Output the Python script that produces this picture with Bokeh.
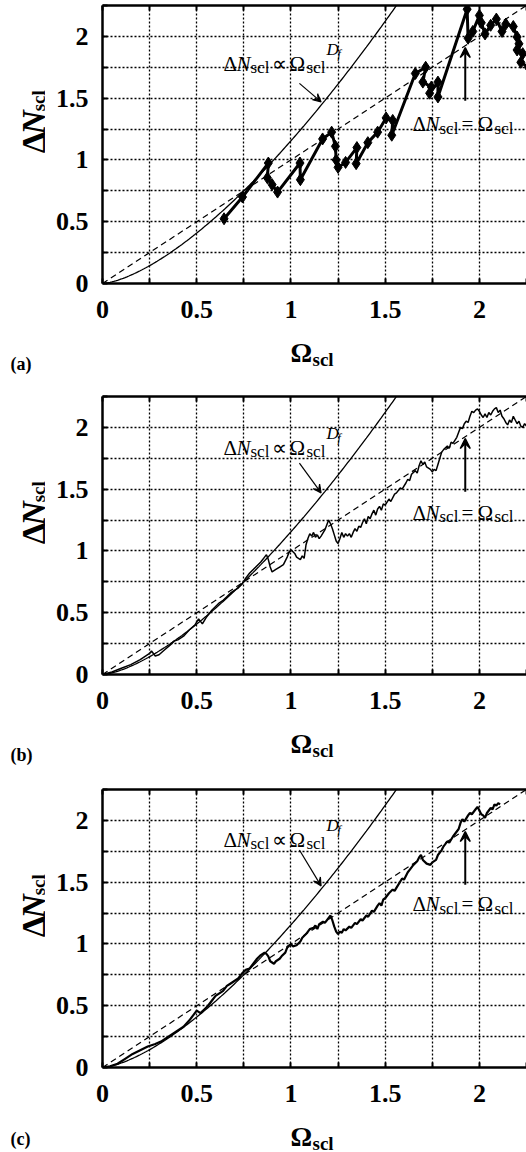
import math
import numpy as np
from bokeh.plotting import figure
from bokeh.layouts import column, row
from bokeh.models import (Label, Arrow, VeeHead, FixedTicker, LinearAxis, Range1d,
                          CustomJSTickFormatter)
from bokeh.core.properties import value
from bokeh.embed import file_html
from bokeh.resources import INLINE

SERIF = "Liberation Serif"

# ---------------- data ----------------
omega_a = [0.645, 0.743, 0.880, 0.875, 0.900, 0.929, 1.048, 1.050, 1.168, 1.216,
           1.236, 1.240, 1.250, 1.290, 1.350, 1.346, 1.408, 1.460, 1.505, 1.540,
           1.535, 1.660, 1.715, 1.700, 1.745, 1.736, 1.780, 1.780, 1.935, 1.940,
           1.965, 2.000, 2.010, 2.030, 2.060, 2.090, 2.120, 2.140, 2.180, 2.200,
           2.210, 2.200, 2.230, 2.220, 2.260]
dn_a = [0.524, 0.700, 0.975, 0.855, 0.800, 0.740, 0.975, 0.840, 1.170, 1.225,
        1.110, 1.000, 0.940, 0.980, 1.100, 0.970, 1.140, 1.225, 1.340, 1.320,
        1.200, 1.700, 1.750, 1.630, 1.590, 1.540, 1.630, 1.510, 2.220, 1.985,
        2.040, 2.170, 2.110, 2.020, 2.090, 2.140, 2.040, 2.100, 2.080, 1.995,
        1.940, 1.890, 1.860, 1.790, 1.750]

omega_b = [0.00, 0.05, 0.10, 0.15, 0.20, 0.23, 0.25, 0.26, 0.28, 0.30,
           0.33, 0.36, 0.38, 0.40, 0.43, 0.46, 0.49, 0.51, 0.53, 0.55,
           0.58, 0.60, 0.62, 0.64, 0.66, 0.68, 0.70, 0.72, 0.74, 0.76,
           0.78, 0.80, 0.82, 0.84, 0.86, 0.87, 0.88, 0.89, 0.90, 0.92,
           0.94, 0.96, 0.98, 0.99, 1.00, 1.02, 1.03, 1.05, 1.06, 1.07,
           1.08, 1.09, 1.10, 1.11, 1.12, 1.13, 1.14, 1.15, 1.16, 1.18,
           1.19, 1.20, 1.21, 1.22, 1.23, 1.24, 1.25, 1.26, 1.27, 1.28,
           1.29, 1.30, 1.31, 1.32, 1.33, 1.34, 1.35, 1.36, 1.37, 1.38,
           1.39, 1.40, 1.41, 1.42, 1.43, 1.44, 1.45, 1.46, 1.47, 1.48,
           1.49, 1.50, 1.52, 1.53, 1.55, 1.56, 1.58, 1.59, 1.61, 1.62,
           1.63, 1.64, 1.66, 1.67, 1.68, 1.69, 1.70, 1.71, 1.72, 1.74,
           1.75, 1.76, 1.77, 1.78, 1.79, 1.80, 1.81, 1.83, 1.84, 1.85,
           1.86, 1.88, 1.89, 1.90, 1.91, 1.92, 1.93, 1.94, 1.95, 1.96,
           1.97, 1.98, 1.99, 2.00, 2.01, 2.02, 2.03, 2.04, 2.05, 2.06,
           2.07, 2.08, 2.09, 2.10, 2.11, 2.12, 2.13, 2.14, 2.15, 2.16,
           2.17, 2.18, 2.19, 2.20, 2.21, 2.22, 2.23, 2.24, 2.25, 2.26]
dn_b = [0.00, 0.02, 0.05, 0.08, 0.12, 0.15, 0.17, 0.19, 0.15, 0.16,
        0.20, 0.24, 0.27, 0.28, 0.31, 0.36, 0.40, 0.45, 0.41, 0.46,
        0.52, 0.55, 0.58, 0.60, 0.63, 0.66, 0.68, 0.70, 0.73, 0.78,
        0.82, 0.85, 0.88, 0.91, 0.95, 0.97, 0.93, 0.87, 0.83, 0.85,
        0.87, 0.89, 0.95, 0.99, 1.01, 0.98, 0.95, 0.93, 0.96, 0.94,
        1.05, 1.10, 1.14, 1.12, 1.15, 1.11, 1.13, 1.10, 1.12, 1.17,
        1.21, 1.25, 1.22, 1.18, 1.13, 1.08, 1.06, 1.10, 1.15, 1.11,
        1.14, 1.12, 1.14, 1.11, 1.15, 1.18, 1.16, 1.20, 1.19, 1.23,
        1.26, 1.22, 1.28, 1.26, 1.30, 1.33, 1.29, 1.34, 1.36, 1.33,
        1.38, 1.37, 1.42, 1.40, 1.46, 1.47, 1.51, 1.50, 1.55, 1.58,
        1.57, 1.62, 1.65, 1.63, 1.69, 1.73, 1.70, 1.72, 1.68, 1.66,
        1.64, 1.66, 1.65, 1.70, 1.75, 1.80, 1.82, 1.85, 1.83, 1.88,
        1.87, 1.92, 1.96, 2.00, 1.99, 2.03, 2.05, 2.04, 2.09, 2.13,
        2.12, 2.14, 2.15, 2.13, 2.10, 2.08, 2.11, 2.08, 2.12, 2.10,
        2.13, 2.15, 2.16, 2.12, 2.14, 2.09, 2.07, 2.04, 2.02, 2.06,
        2.04, 2.09, 2.06, 2.03, 2.05, 2.01, 2.00, 2.03, 2.01, 2.02]

omega_c = [0.00, 0.04, 0.08, 0.12, 0.16, 0.20, 0.24, 0.26, 0.28, 0.31,
           0.34, 0.37, 0.40, 0.43, 0.46, 0.48, 0.50, 0.52, 0.54, 0.56,
           0.58, 0.60, 0.62, 0.64, 0.66, 0.68, 0.70, 0.72, 0.74, 0.76,
           0.78, 0.80, 0.82, 0.84, 0.86, 0.87, 0.88, 0.89, 0.91, 0.92,
           0.94, 0.95, 0.97, 0.98, 1.00, 1.01, 1.03, 1.05, 1.06, 1.08,
           1.09, 1.10, 1.12, 1.13, 1.14, 1.15, 1.17, 1.18, 1.20, 1.21,
           1.22, 1.23, 1.24, 1.25, 1.26, 1.27, 1.28, 1.29, 1.31, 1.32,
           1.34, 1.35, 1.37, 1.38, 1.40, 1.41, 1.43, 1.44, 1.46, 1.47,
           1.48, 1.49, 1.50, 1.52, 1.54, 1.55, 1.57, 1.59, 1.60, 1.62,
           1.63, 1.65, 1.67, 1.68, 1.69, 1.70, 1.72, 1.74, 1.75, 1.77,
           1.78, 1.80, 1.81, 1.83, 1.84, 1.86, 1.87, 1.89, 1.90, 1.91,
           1.92, 1.94, 1.95, 1.96, 1.98, 1.99, 2.00, 2.01, 2.02, 2.03,
           2.04, 2.05, 2.06, 2.07, 2.08, 2.09, 2.10, 2.11]
dn_c = [0.00, 0.01, 0.03, 0.07, 0.11, 0.14, 0.17, 0.18, 0.19, 0.21,
        0.24, 0.27, 0.30, 0.33, 0.38, 0.42, 0.46, 0.44, 0.47, 0.50,
        0.54, 0.58, 0.60, 0.62, 0.66, 0.68, 0.70, 0.72, 0.76, 0.79,
        0.80, 0.84, 0.88, 0.91, 0.93, 0.92, 0.90, 0.86, 0.84, 0.86,
        0.88, 0.90, 0.93, 0.97, 1.00, 0.98, 0.99, 1.02, 1.05, 1.08,
        1.10, 1.12, 1.13, 1.15, 1.12, 1.16, 1.18, 1.17, 1.21, 1.23,
        1.19, 1.14, 1.10, 1.08, 1.10, 1.09, 1.12, 1.11, 1.14, 1.13,
        1.17, 1.16, 1.20, 1.19, 1.23, 1.22, 1.27, 1.26, 1.31, 1.33,
        1.31, 1.36, 1.37, 1.41, 1.44, 1.43, 1.48, 1.53, 1.52, 1.58,
        1.60, 1.64, 1.67, 1.70, 1.72, 1.68, 1.65, 1.64, 1.66, 1.68,
        1.72, 1.76, 1.79, 1.83, 1.82, 1.87, 1.89, 1.93, 1.98, 2.01,
        1.99, 2.04, 2.06, 2.05, 2.09, 2.11, 2.08, 2.05, 2.04, 2.02,
        2.06, 2.08, 2.10, 2.09, 2.13, 2.12, 2.14, 2.13]

assert len(omega_a) == len(dn_a)
assert len(omega_b) == len(dn_b)
assert len(omega_c) == len(dn_c)

tick_values = [0, 0.25, 0.5, 0.75, 1.0, 1.25, 1.5, 1.75, 2.0, 2.25]
grid_values = [0.25, 0.5, 0.75, 1.0, 1.25, 1.5, 1.75, 2.0]

# model lines drawn in every panel
D_F = 1.5
FIT_COEF = 1.155
fit_omega = np.linspace(0.0, 1.62, 163)
fit_dn = FIT_COEF * fit_omega ** D_F
ident_omega = [0.0, 2.3]
ident_dn = [0.0, 2.3]

# ---------------- layout constants (pixels) ----------------
TOTAL_W = 526
YLAB_W = 45          # strip holding the rotated y title
LEFT = 102           # frame left edge on the page
FRAME_H = 278
TOP_B = 5
BOT_B = 48           # room for the x tick labels
MAIN_H = TOP_B + FRAME_H + BOT_B
PX_X = 424 / 2.25
PX_Y = FRAME_H / 2.25


def X(px):
    return (px - LEFT) / PX_X


label_fmt = CustomJSTickFormatter(code="return (Math.abs(tick % 0.5) < 1e-9) ? String(tick) : '';")
blank_fmt = CustomJSTickFormatter(code="return '';")


def lab(p, x, y, text, size, style="normal"):
    p.add_layout(Label(x=x, y=y, text=text, text_font=SERIF,
                       text_font_size=f"{size}px", text_font_style=style,
                       text_color="black", text_align="left",
                       text_baseline="alphabetic"))


def strip(w, h):
    s = figure(width=w, height=h, x_range=Range1d(0, w), y_range=Range1d(0, h),
               output_backend="svg", toolbar_location=None, min_border=0,
               x_axis_type=None, y_axis_type=None, outline_line_color=None,
               background_fill_color="white", border_fill_color="white")
    s.grid.visible = False
    return s


def stext(s, x, y, text, size, style="bold", angle=0.0):
    s.text(x=[x], y=[y], text=[text], angle=angle, text_font=value(SERIF),
           text_font_size=value(f"{size}px"), text_font_style=style,
           text_color="black", text_align="left", text_baseline="alphabetic")


def make_panel(letter, xs, ys, kind, total_h, ann1_y, arr1_y0, ann2_y, letter_dy):
    p = figure(width=TOTAL_W - YLAB_W, height=MAIN_H,
               x_range=Range1d(0, 2.25), y_range=Range1d(0, 2.25),
               output_backend="svg", toolbar_location=None,
               min_border_left=LEFT - YLAB_W, min_border_right=0, min_border_top=TOP_B,
               min_border_bottom=BOT_B, outline_line_color=None,
               background_fill_color="white", border_fill_color="white")

    for ax in (p.xaxis[0], p.yaxis[0]):
        ax.ticker = FixedTicker(ticks=tick_values)
        ax.formatter = label_fmt
        ax.major_label_text_font = SERIF
        ax.major_label_text_font_style = "bold"
        ax.major_label_text_font_size = "26px"
        ax.major_label_text_color = "black"
        ax.axis_line_width = 2.5
        ax.axis_line_color = "black"
        ax.major_tick_in = 5
        ax.major_tick_out = 0
        ax.major_tick_line_width = 2
        ax.minor_tick_line_color = None
    p.yaxis[0].major_label_standoff = 14
    p.xaxis[0].major_label_standoff = 17

    top = LinearAxis(ticker=FixedTicker(ticks=tick_values), formatter=blank_fmt,
                     major_label_text_font_size="0px", major_label_standoff=0,
                     major_tick_in=5, major_tick_out=0, major_tick_line_width=2,
                     minor_tick_line_color=None, axis_line_width=2.5)
    p.add_layout(top, "above")

    for g in (p.xgrid[0], p.ygrid[0]):
        g.ticker = FixedTicker(ticks=grid_values)
        g.grid_line_color = "black"
        g.grid_line_dash = "2 2"
        g.grid_line_width = 1.3

    # model curves
    p.line(fit_omega, fit_dn, line_color="black", line_width=1.3)
    p.line(ident_omega, ident_dn, line_color="black", line_width=1.2, line_dash="6 4")

    # data
    if kind == "markers":
        p.line(xs, ys, line_color="black", line_width=3)
        p.scatter(xs, ys, marker="diamond", size=12, color="black")
    elif kind == "thin":
        p.line(xs, ys, line_color="black", line_width=1.5)
    else:
        p.line(xs, ys, line_color="black", line_width=2.2)

    # annotation 1 : dN_scl ∝ Ω_scl^{D_f}
    sub = 4 / PX_Y
    lab(p, X(223), ann1_y, "Δ", 21)
    lab(p, X(236), ann1_y, "N", 21, "italic")
    lab(p, X(250), ann1_y - sub, "scl", 17)
    lab(p, X(271), ann1_y, "∝", 21)
    lab(p, X(289), ann1_y, "Ω", 21)
    lab(p, X(306), ann1_y - sub, "scl", 17)
    lab(p, X(326), ann1_y + 14 / PX_Y, "D", 17, "italic")
    lab(p, X(337), ann1_y + 10 / PX_Y, "f", 12, "italic")
    p.add_layout(Arrow(end=VeeHead(size=8, line_width=1.2, fill_color="black"),
                       x_start=1.045, y_start=arr1_y0, x_end=1.16, y_end=1.47,
                       line_width=1.2, line_color="black"))

    # annotation 2 : dN_scl = Ω_scl
    lab(p, X(412), ann2_y, "Δ", 21)
    lab(p, X(425), ann2_y, "N", 21, "italic")
    lab(p, X(439), ann2_y - sub, "scl", 17)
    lab(p, X(461), ann2_y, "=", 21)
    lab(p, X(477), ann2_y, "Ω", 21)
    lab(p, X(494), ann2_y - sub, "scl", 17)
    p.add_layout(Arrow(end=VeeHead(size=10, line_width=1.5, fill_color="black"),
                       x_start=1.925, y_start=1.48, x_end=1.925, y_end=1.91,
                       line_width=2, line_color="black"))

    # y title strip (left of the figure)
    ys_ = strip(YLAB_W, MAIN_H)
    rot = math.pi / 2
    stext(ys_, 33, BOT_B + 107, "Δ", 34, "bold", rot)
    stext(ys_, 33, BOT_B + 129, "N", 34, "bold italic", rot)
    stext(ys_, 38, BOT_B + 157, "scl", 19, "bold", rot)

    # x title strip (below)
    xh = total_h - MAIN_H
    xs_ = strip(TOTAL_W, xh)
    stext(xs_, 290, xh - (69 - BOT_B), "Ω", 27)
    stext(xs_, 312, xh - (76 - BOT_B), "scl", 19)
    stext(xs_, 10, xh - (letter_dy - BOT_B), f"({letter})", 18)

    return column(row(ys_, p, spacing=0), xs_, spacing=0)


pa = make_panel("a", omega_a, dn_a, "markers", 391, 1.78, 1.62, 1.29, 80)
pb = make_panel("b", omega_b, dn_b, "thin", 393, 1.835, 1.71, 1.31, 80)
pc = make_panel("c", omega_c, dn_c, "thick", 368, 1.845, 1.76, 1.32, 71)

layout = column(pa, pb, pc, spacing=0)
open("out.html", "w").write(file_html(layout, INLINE))
